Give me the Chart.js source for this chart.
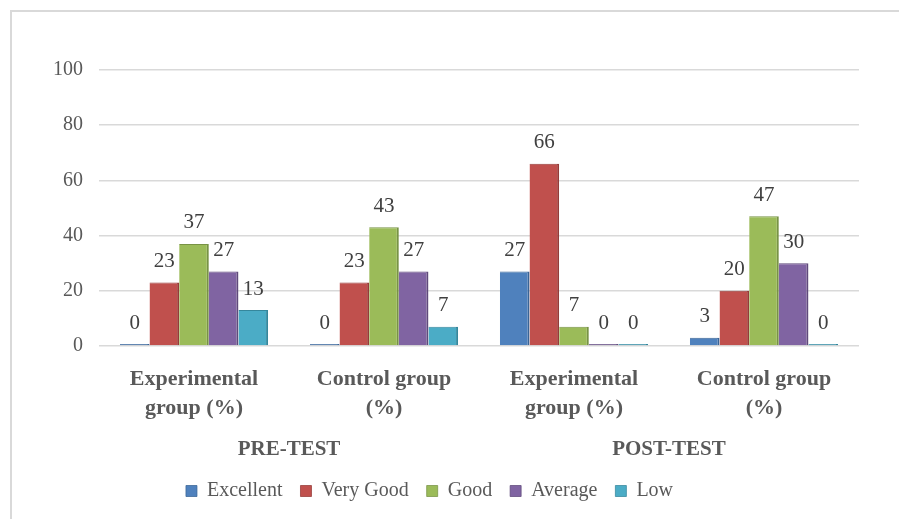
<!DOCTYPE html>
<html>
<head>
<meta charset="utf-8">
<script src="https://cdn.jsdelivr.net/npm/chart.js@4.4.1/dist/chart.umd.min.js"></script>
<style>
  html, body { margin: 0; padding: 0; background: #fff; }
  #wrap { position: relative; width: 899px; height: 519px; }
  #frame { position: absolute; left: 10px; top: 10px; width: 900px; height: 520px;
           border-left: 2px solid #d9d9d9; border-top: 2px solid #d9d9d9; pointer-events: none; }
  canvas { position: absolute; left: 0; top: 0; }
</style>
</head>
<body>
<div id="wrap">
  <canvas id="c" width="899" height="519"></canvas>
  <div id="frame"></div>
</div>
<script>
const categories = [["Experimental", "group (%)"], ["Control group", "(%)"], ["Experimental", "group (%)"], ["Control group", "(%)"]];
const phases = ["PRE-TEST", "POST-TEST"];
const seriesNames = ["Excellent", "Very Good", "Good", "Average", "Low"];
const excellent = [0, 0, 27, 3];
const veryGood = [23, 23, 66, 20];
const good = [37, 43, 7, 47];
const average = [27, 27, 0, 30];
const low = [13, 7, 0, 0];
const yTicks = [0, 20, 40, 60, 80, 100];

const colors = ["#4F81BD", "#C0504D", "#9BBB59", "#8064A2", "#4BACC6"];
const edges = ["#3a6496", "#963b38", "#789345", "#5f4a7b", "#35879c"];
const seriesValues = [excellent, veryGood, good, average, low];

const FONT = "'Liberation Serif', 'Times New Roman', serif";

const dataLabels = {
  id: 'dataLabels',
  afterDatasetsDraw(chart) {
    const ctx = chart.ctx;
    ctx.save();
    ctx.font = "21px " + FONT;
    ctx.fillStyle = "#404040";
    ctx.textAlign = "center";
    ctx.textBaseline = "middle";
    chart.data.datasets.forEach((ds, i) => {
      const meta = chart.getDatasetMeta(i);
      meta.data.forEach((el, j) => {
        const v = ds.data[j];
        const top = Math.min(el.y, el.base);
        ctx.fillText(String(v), el.x, top - 21);
      });
    });
    ctx.restore();
  }
};

new Chart(document.getElementById('c'), {
  type: 'bar',
  data: {
    labels: categories,
    datasets: seriesNames.map((name, i) => ({
      label: name,
      data: seriesValues[i],
      backgroundColor: colors[i],
      borderColor: edges[i],
      borderWidth: { top: 1, right: 2, left: 0, bottom: 0 },
      borderSkipped: 'start',
      minBarLength: 2,
      barPercentage: 1.0,
      categoryPercentage: 0.78,
      xAxisID: 'x'
    }))
  },
  options: {
    responsive: false,
    animation: false,
    devicePixelRatio: 1,
    layout: { padding: { top: 70, right: 40, left: 0, bottom: 8 } },
    plugins: {
      tooltip: { enabled: false },
      legend: {
        position: 'bottom',
        labels: {
          color: '#595959',
          font: { family: FONT, size: 20 },
          boxWidth: 11,
          boxHeight: 11,
          padding: 18
        }
      }
    },
    scales: {
      x: {
        position: 'bottom',
        grid: { display: false },
        border: { display: false },
        ticks: {
          color: '#595959',
          font: { family: FONT, size: 22, weight: 'bold', lineHeight: 1.32 },
          padding: 11,
          maxRotation: 0,
          autoSkip: false
        },
        afterFit(s) { s.height = 83; }
      },
      x2: {
        type: 'category',
        position: 'bottom',
        labels: phases,
        offset: true,
        grid: { display: false },
        border: { display: false },
        ticks: {
          color: '#595959',
          font: { family: FONT, size: 21, weight: 'bold' },
          padding: 0,
          maxRotation: 0,
          autoSkip: false
        },
        afterFit(s) { s.height = 34; }
      },
      y: {
        min: 0,
        max: 100,
        afterBuildTicks(s) { s.ticks = yTicks.map(v => ({ value: v })); },
        grid: { color: '#d9d9d9', lineWidth: 1.5, drawTicks: false },
        border: { display: false },
        ticks: {
          color: '#595959',
          font: { family: FONT, size: 20 },
          padding: 16
        },
        afterFit(s) { s.width = 99; }
      }
    }
  },
  plugins: [dataLabels]
});
</script>
</body>
</html>
